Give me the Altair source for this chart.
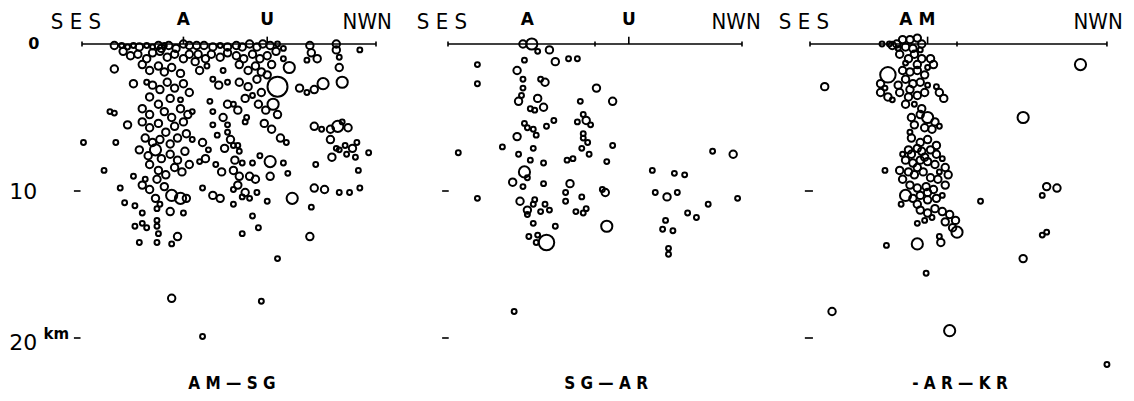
import altair as alt
import pandas as pd

# ---- hypocentres: (distance along profile from SES end [km], depth [km], magnitude class)
amsg_events = [
    (2.2,0.1,2),(2.7,0.1,1),(3.1,0.2,1),(3.5,0.1,1),(3.9,0.2,2),(4.4,0.1,1),(4.8,0.2,1),(5.2,0.1,2),(5.4,0.3,2),(5.6,0.1,1),
    (5.9,0.1,2),(6.4,0.3,2),(6.9,0.0,2),(7.3,0.1,2),(7.8,0.1,2),(8.3,0.1,2),(8.9,0.2,2),(9.4,0.1,1),(9.9,0.2,2),(10.5,0.1,2),
    (10.9,0.2,2),(11.4,0.0,2),(11.9,0.2,2),(12.3,0.0,2),(12.8,0.1,2),(13.3,0.0,1),(13.7,0.3,1),(15.5,0.1,2),(17.3,0.0,2),
    (2.8,0.5,2),(3.3,0.8,2),(3.8,0.7,2),(4.4,1.0,2),(4.8,0.6,2),(5.3,0.5,2),(5.8,0.9,2),(6.3,0.7,2),(6.9,1.0,2),(7.3,0.7,2),
    (7.9,0.7,2),(8.4,1.0,2),(8.8,0.7,2),(9.4,0.9,2),(9.9,0.6,2),(10.5,0.8,2),(11.0,1.0,2),(11.6,0.7,2),(12.1,1.0,2),(12.6,0.8,2),
    (13.2,0.5,2),(13.7,1.0,1),(15.6,0.6,2),(17.3,0.4,2),(18.9,0.4,1),(15.3,1.1,1),(16.0,1.0,2),(17.5,0.9,1),
    (2.2,1.7,2),(4.1,1.4,2),(4.6,1.8,2),(5.2,1.5,2),(5.6,1.9,2),(6.1,1.6,2),(6.7,2.0,2),(7.7,1.2,2),(8.0,1.8,2),(8.5,1.5,1),
    (9.6,1.8,1),(10.7,1.4,2),(11.3,1.8,2),(11.8,1.5,2),(12.2,1.9,2),(12.9,1.4,2),(14.1,1.6,3),(17.5,1.6,2),
    (3.5,2.7,2),(4.4,2.6,1),(4.8,2.8,2),(5.3,3.1,2),(5.8,2.6,2),(6.3,3.0,2),(6.9,2.7,2),(7.3,3.3,2),(8.9,2.4,1),(9.3,2.8,2),
    (9.9,2.6,1),(10.7,2.6,2),(11.3,2.9,2),(11.9,2.4,2),(12.2,3.3,2),(12.6,2.1,2),(13.3,2.9,5),(14.8,3.0,2),(15.3,3.3,1),(15.8,3.1,2),
    (16.4,2.7,3),(17.7,2.6,3),(4.6,3.6,2),(6.0,3.7,2),(6.7,3.8,1),(11.1,3.7,2),(11.6,3.5,1),
    (1.9,4.6,1),(2.2,4.7,1),(4.1,4.4,2),(4.6,4.8,2),(5.2,4.1,2),(5.6,4.6,2),(6.1,5.0,2),(6.7,4.4,2),(7.2,4.8,2),(7.5,4.6,1),
    (8.7,3.9,1),(8.9,4.6,1),(9.6,5.0,2),(10.3,4.1,1),(9.9,4.1,2),(10.6,4.5,2),(12.0,4.1,2),(12.5,4.5,2),(13.0,4.1,3),(13.3,4.8,2),
    (11.2,5.0,1),
    (3.1,5.5,2),(4.1,5.3,2),(4.6,5.7,2),(5.2,5.4,2),(5.7,6.0,2),(6.3,5.6,2),(6.9,5.3,2),(7.1,6.1,2),(8.9,5.5,1),(9.9,5.5,1),
    (11.1,5.3,1),(9.9,6.0,1),(12.4,5.4,2),(12.9,5.8,2),(13.5,6.4,2),(13.9,6.7,1),(15.8,5.6,2),(16.3,5.8,1),(16.9,5.8,2),(17.4,5.6,3),
    (18.1,5.7,2),(17.7,5.3,1),(0.1,6.7,1),(2.3,6.7,1),(4.3,6.4,2),(4.8,6.7,2),(5.3,6.5,2),(6.0,6.8,2),(6.5,6.4,2),(7.5,6.5,1),
    (8.2,6.7,2),(8.6,7.2,1),(10.1,6.5,2),(10.6,6.9,1),(16.9,6.5,2),(17.3,7.1,1),(17.5,7.2,1),(17.9,6.9,1),(18.4,7.1,2),(18.7,6.7,1),
    (3.9,7.2,2),(4.5,7.6,2),(5.0,7.2,3),(5.4,7.8,2),(6.0,7.5,2),(6.5,7.9,2),(7.0,7.3,2),(4.6,8.2,2),(5.2,8.6,2),(5.7,8.9,2),
    (6.3,8.4,2),(6.8,8.7,2),(7.3,8.2,2),(9.2,6.2,1),(9.7,7.1,2),(10.3,6.9,1),(10.7,7.3,1),(10.4,7.9,2),(10.9,8.1,1),(8.0,8.0,1),
    (8.4,7.8,2),(9.1,8.2,1),(9.5,8.7,2),(11.6,8.1,1),(12.1,7.6,1),(12.8,8.0,3),(13.7,8.1,1),(14.0,8.8,1),(17.0,7.7,2),
    (18.0,7.5,1),(18.6,7.7,1),(19.5,7.4,1),(18.8,8.6,1),(15.9,8.2,1),(1.5,8.6,1),(3.5,9.0,1),(4.3,9.2,1),(11.4,9.0,2),(11.8,9.2,2),
    (12.8,9.0,2),(10.7,9.0,2),(10.3,8.6,2),
    (4.1,9.6,2),(4.6,9.9,2),(5.1,9.2,2),(5.6,9.7,2),(6.1,10.3,3),(6.7,10.5,3),(7.1,10.5,2),(5.0,10.5,2),(2.6,9.8,1),(8.2,9.8,1),
    (8.9,10.3,2),(9.4,10.5,2),(10.3,9.9,1),(10.6,9.6,2),(11.1,10.1,2),(11.4,10.5,1),(11.9,10.1,1),(10.9,10.4,1),(12.6,10.7,1),(14.3,10.5,3),
    (15.8,9.8,2),(16.5,9.9,2),(17.5,10.1,1),(18.2,10.1,1),(18.9,9.8,1),(2.9,10.8,1),(3.6,11.0,1),(5.3,10.9,1),(10.3,10.9,1),
    (4.1,11.5,1),(5.1,11.2,1),(5.1,12.0,1),(6.0,11.4,2),(6.9,11.5,1),(15.6,11.1,1),(11.6,11.7,1),(3.6,12.4,1),(4.1,12.2,1),(4.4,12.5,1),
    (5.1,12.4,1),(5.2,12.9,1),(6.5,13.1,2),(10.9,12.9,1),(12.0,12.5,1),(15.5,13.1,2),(3.9,13.5,1),(5.1,13.5,1),(6.1,13.6,1),(13.3,14.6,1),
    (6.1,17.3,2),(12.2,17.5,1),(8.2,19.9,1),
]

sgar_events = [
    (5.1,0.0,2),(5.7,0.0,3),(6.1,0.5,1),(6.9,0.4,2),(2.0,1.4,1),(5.2,1.1,1),(7.3,1.2,2),(8.2,1.0,1),(8.8,1.0,1),(2.0,2.7,1),
    (4.7,1.8,2),(5.1,2.4,1),(6.3,2.4,1),(6.6,2.6,2),(5.1,3.0,1),(10.1,3.0,2),(5.0,3.5,1),(4.8,3.9,2),(6.1,3.7,2),(9.0,3.9,1),
    (11.2,3.9,2),(5.6,4.4,1),(5.9,4.5,1),(6.5,4.3,2),(9.2,4.8,1),(8.8,5.3,1),(9.4,5.2,2),(9.7,5.5,1),(5.2,5.4,1),(5.4,5.7,1),
    (5.8,5.8,1),(6.0,6.2,1),(6.7,5.6,1),(7.2,5.2,1),(4.7,6.3,2),(9.2,6.1,1),(9.2,6.4,1),(9.5,6.7,1),(9.1,7.1,1),(11.2,6.9,1),
    (3.7,7.0,1),(5.8,7.1,1),(0.7,7.4,1),(4.8,7.5,1),(5.6,7.9,1),(6.5,8.1,1),(8.1,7.9,1),(8.5,7.8,1),(9.6,7.5,1),(10.8,8.0,1),
    (18.0,7.3,1),(19.4,7.5,2),(5.2,8.7,3),(4.4,9.4,2),(5.4,9.1,1),(13.9,8.6,1),(15.4,8.8,1),(16.1,8.9,1),(8.3,9.5,2),(10.5,9.9,1),
    (5.1,9.7,1),(6.5,9.5,1),(8.0,10.1,1),(9.1,10.4,1),(10.7,10.1,2),(2.0,10.5,1),(14.1,10.1,1),(14.9,10.4,2),(15.6,10.1,1),(19.7,10.5,1),
    (4.9,10.7,2),(5.8,10.9,1),(5.9,10.6,1),(6.6,10.9,1),(6.9,11.3,1),(6.3,11.4,1),(8.0,10.7,1),(8.7,11.4,1),(9.2,11.5,1),(9.4,11.2,1),
    (5.4,11.3,2),(5.4,11.6,1),(17.7,10.9,1),(16.3,11.5,1),(16.9,11.8,1),(5.8,12.2,1),(7.3,12.4,1),(10.8,12.4,3),(14.8,12.0,1),(14.6,12.6,1),
    (15.3,12.7,1),(5.5,13.1,1),(6.1,13.0,1),(6.0,13.5,1),(6.7,13.5,4),(15.0,13.9,1),(15.0,14.3,1),(4.5,18.2,1),
]

arkr_events = [
    (4.9,0.0,1),(5.4,0.0,1),(5.6,0.1,2),(5.9,0.0,2),(6.3,-0.3,2),(6.8,-0.3,2),(7.3,-0.4,2),(7.6,0.0,2),(6.5,0.2,2),(7.0,0.3,2),
    (6.0,0.3,1),(7.5,0.4,1),(6.1,0.7,2),(6.7,1.0,2),(7.1,0.7,2),(7.6,1.0,2),(6.5,1.3,1),(7.3,1.4,2),(8.2,1.0,2),(8.4,1.4,2),
    (8.0,1.6,1),(5.3,2.1,4),(4.8,2.7,2),(5.1,3.0,1),(6.3,1.8,2),(6.8,1.9,2),(7.3,1.8,2),(7.8,2.1,2),(6.5,2.4,2),(7.0,2.7,2),
    (7.5,2.6,2),(6.0,2.8,2),(8.0,2.8,1),(6.8,3.1,2),(4.8,3.3,2),(5.3,3.6,2),(5.6,3.8,1),(6.1,3.3,2),(6.7,3.6,2),(7.3,3.5,2),
    (7.8,3.3,2),(6.5,4.1,2),(7.1,4.1,1),(7.6,4.4,2),(8.6,2.9,1),(8.8,3.3,2),(9.1,3.7,2),(6.9,5.0,2),(7.5,4.8,2),(8.0,5.0,3),
    (8.5,5.3,2),(7.1,5.5,2),(7.8,5.7,2),(6.8,6.0,1),(8.3,5.8,2),(8.8,5.6,1),(6.9,6.4,2),(7.5,6.7,2),(8.0,6.5,2),(8.6,6.9,2),
    (7.3,7.1,2),(8.2,7.2,2),(1.0,2.9,2),(18.4,1.4,3),(14.5,5.0,3),(6.3,7.5,1),(5.1,8.6,1),(16.1,9.7,2),(16.8,9.8,2),(15.8,10.3,1),
    (6.7,7.2,2),(7.6,7.3,2),(8.6,7.5,2),(9.0,7.8,1),(6.5,7.9,2),(7.0,8.1,2),(7.5,7.9,2),(8.0,8.0,2),(8.5,8.2,2),(9.2,8.4,2),
    (9.4,8.9,2),(6.1,8.6,2),(6.7,8.7,2),(7.1,8.9,2),(7.7,8.7,2),(8.2,9.1,2),(8.7,9.2,2),(9.2,9.6,2),(6.3,9.2,2),(6.8,9.6,2),
    (7.3,9.8,2),(7.9,9.7,2),(8.4,9.9,2),(9.0,10.3,1),(6.5,10.3,3),(7.0,10.5,2),(7.5,10.3,2),(8.0,10.6,2),(8.6,10.5,2),(6.2,10.9,1),
    (7.3,10.9,2),(11.6,10.7,1),(7.5,11.3,2),(8.0,11.5,2),(8.5,11.2,2),(9.0,11.4,2),(9.5,11.6,2),(9.9,12.0,2),(8.3,11.8,1),(7.8,12.0,1),
    (9.2,12.1,2),(9.7,12.5,2),(7.3,12.2,1),(10.0,12.8,3),(8.8,13.1,1),(8.9,13.5,2),(7.3,13.6,3),(5.2,13.7,1),(16.1,12.8,1),(15.8,13.0,1),
    (14.5,14.6,2),(7.9,15.6,1),(1.5,18.2,2),(9.5,19.5,3),(20.2,21.8,1),(6.9,7.5,2),(7.8,7.7,2),(7.3,8.4,2),(8.8,8.7,1),(8.0,10.1,2),
]

# profile lengths (km) and marked stations along each profile
profile_len = [20.0, 20.0, 20.2]
station_ticks = [[6.9, 12.6], [12.3], [8.0]]
minor_ticks = [[0.0, 20.0], [0.0, 10.0, 20.0], [0.0, 10.0, 20.2]]
station_labels = [[("A", 6.9), ("U", 12.6)], [("A", 5.4), ("U", 12.3)], [("A M", 7.3)]]
profile_names = ["A M — S G", "S G — A R", "- A R — K R"]
depth_ticks = [10, 20]

mag_classes = [1, 2, 3, 4, 5]
mag_sizes = [24, 55, 125, 240, 400]

PX_PER_KM = 14.7
panel_widths = [400, 370, 364]
panel_left_px = [82, 48, 40]
H = 401
TOP_PX = 44

ys = alt.Scale(domain=[-TOP_PX / PX_PER_KM, (H - TOP_PX) / PX_PER_KM], reverse=True, nice=False, zero=False)


def panel(i, events):
    w = panel_widths[i]
    xs = alt.Scale(domain=[-panel_left_px[i] / PX_PER_KM, (w - panel_left_px[i]) / PX_PER_KM], nice=False, zero=False)
    X = lambda f: alt.X(f, type="quantitative", scale=xs, axis=None)
    Y = lambda f: alt.Y(f, type="quantitative", scale=ys, axis=None)

    line = alt.Chart(pd.DataFrame({"x": [0.0], "x2": [profile_len[i]], "y": [0.0]})).mark_rule(
        color="black", strokeWidth=1.4).encode(x=X("x"), x2=alt.X2("x2"), y=Y("y"))
    up = alt.Chart(pd.DataFrame({"x": station_ticks[i], "y": [-0.5] * len(station_ticks[i]),
                                 "y2": [0.0] * len(station_ticks[i])})).mark_rule(
        color="black", strokeWidth=1.6).encode(x=X("x"), y=Y("y"), y2=alt.Y2("y2"))
    small = alt.Chart(pd.DataFrame({"x": minor_ticks[i], "y": [-0.17] * len(minor_ticks[i]),
                                    "y2": [0.17] * len(minor_ticks[i])})).mark_rule(
        color="black", strokeWidth=1.6).encode(x=X("x"), y=Y("y"), y2=alt.Y2("y2"))
    dash_x = {0: (-0.55, -0.1), 1: (-0.4, 0.05), 2: (-0.35, 0.2)}[i]
    dashes = alt.Chart(pd.DataFrame({"x": [dash_x[0]] * 2, "x2": [dash_x[1]] * 2, "y": depth_ticks})).mark_rule(
        color="black", strokeWidth=1.6).encode(x=X("x"), x2=alt.X2("x2"), y=Y("y"))

    ev = pd.DataFrame(events, columns=["dist", "depth", "mag"])
    circles = alt.Chart(ev).mark_point(shape="circle", filled=False, color="black", strokeWidth=2.0, opacity=1).encode(
        x=X("dist"), y=Y("depth"),
        size=alt.Size("mag:Q", scale=alt.Scale(domain=mag_classes, range=mag_sizes), legend=None))

    def txt(df, **kw):
        return alt.Chart(df).mark_text(color="black", align="center", baseline="middle", **kw).encode(
            x=X("x"), y=Y("y"), text="t:N")

    dirs = txt(pd.DataFrame({"t": ["S E S", "NWN"], "x": [-0.41, 19.4 if i == 0 else 19.6], "y": [-1.5, -1.5]}),
               font="DejaVu Sans Condensed", fontSize=22)
    st = txt(pd.DataFrame({"t": [s[0] for s in station_labels[i]], "x": [s[1] for s in station_labels[i]],
                           "y": [-1.65] * len(station_labels[i])}),
             font="DejaVu Sans", fontSize=17, fontWeight="bold")
    bottom = txt(pd.DataFrame({"t": [profile_names[i]], "x": [10.2 if i != 1 else 10.75], "y": [23.1]}),
                 font="DejaVu Sans Condensed", fontSize=17, fontWeight="bold")
    layers = [line, up, small, dashes, circles, dirs, st, bottom]
    if i == 0:
        layers.append(txt(pd.DataFrame({"t": ["0"], "x": [-3.27], "y": [0.0]}),
                          font="DejaVu Sans", fontSize=16, fontWeight="bold"))
        layers.append(txt(pd.DataFrame({"t": ["10", "20"], "x": [-4.0, -4.0], "y": [10.1, 20.35]}),
                          font="DejaVu Sans", fontSize=22))
        layers.append(txt(pd.DataFrame({"t": ["km"], "x": [-1.75], "y": [19.7]}),
                          font="DejaVu Sans", fontSize=15, fontWeight="bold"))
    return alt.layer(*layers).properties(width=w, height=H)


chart = alt.hconcat(
    panel(0, amsg_events), panel(1, sgar_events), panel(2, arkr_events), spacing=0
).properties(padding=0, background="white").configure_view(stroke=None)

chart.save("out.html", embed_options={"renderer": "svg", "actions": False})
